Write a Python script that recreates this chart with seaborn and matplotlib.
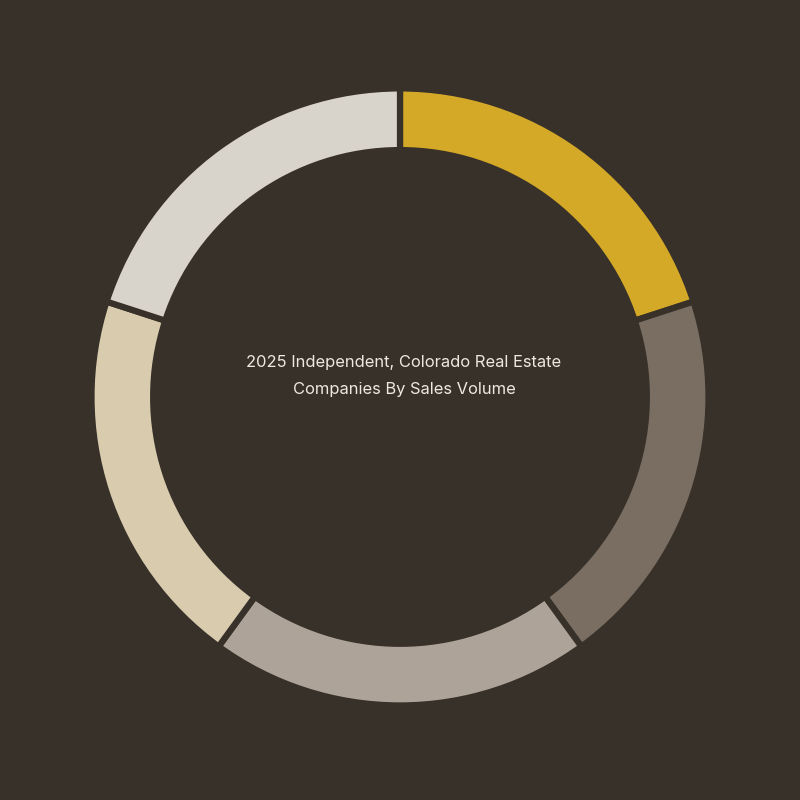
import matplotlib
matplotlib.use("Agg")
import matplotlib.pyplot as plt
import seaborn as sns

categories = ["Segment 1", "Segment 2", "Segment 3", "Segment 4", "Segment 5"]
values = [1, 1, 1, 1, 1]
colors = ["#D4A928", "#7A6E62", "#ADA398", "#D8CBAE", "#D9D4CB"]
title_lines = ["2025 Independent, Colorado Real Estate", "Companies By Sales Volume"]

bg = "#383129"
sns.set_theme(style="white")
plt.rcParams["font.family"] = ["Inter", "DejaVu Sans"]

fig = plt.figure(figsize=(8, 8), dpi=100, facecolor=bg)
ax = fig.add_axes([0, 0, 1, 1])
ax.set_facecolor(bg)

ax.pie(values, colors=colors, startangle=90, counterclock=False,
       radius=1.005, labels=None,
       wedgeprops=dict(width=0.201, edgecolor=bg, linewidth=4.5))
ax.set_aspect("equal")
L = 800 / 614
ax.set_xlim(-L, L)
ax.set_ylim(-L - 0.01, L - 0.01)
ax.axis("off")

ax.text(0.013, 0.067, "\n".join(title_lines), ha="center", va="center",
        color="#EDE8E0", fontsize=11.9, linespacing=1.98)

fig.savefig("out.png", dpi=100, facecolor=bg)
